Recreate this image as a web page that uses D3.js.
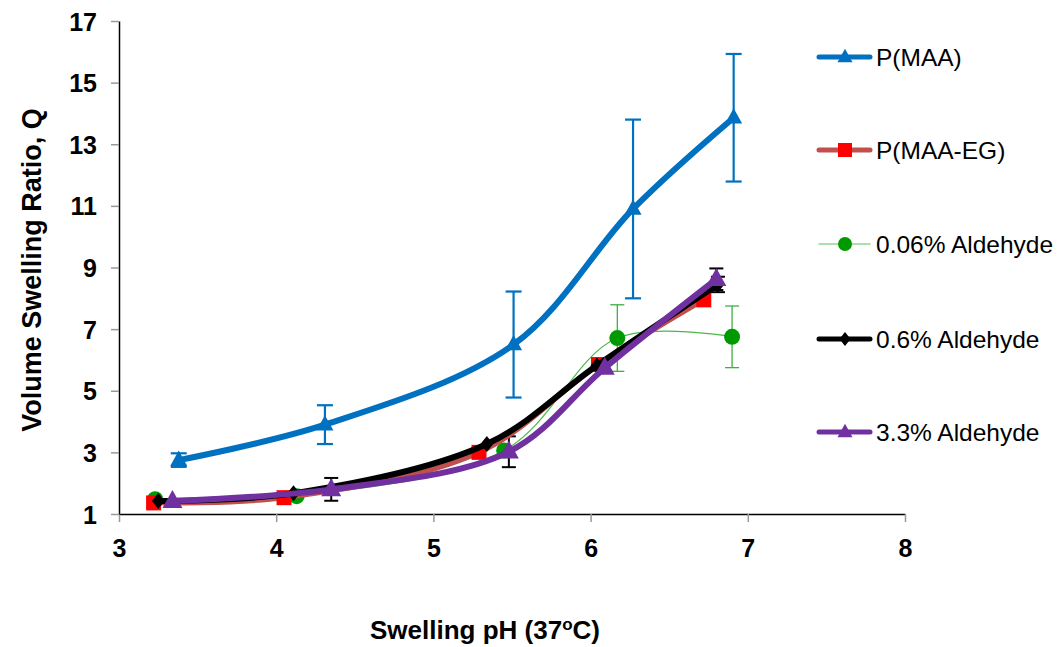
<!DOCTYPE html>
<html><head><meta charset="utf-8">
<script src="https://cdn.jsdelivr.net/npm/d3@7"></script>
<style>body{margin:0;background:#fff}</style>
</head><body>
<svg id="c" width="1060" height="647"></svg>
<script>
const xTicks = [3,4,5,6,7,8];
const yTicks = [1,3,5,7,9,11,13,15,17];

const seriesNames = ["P(MAA)","P(MAA-EG)","0.06% Aldehyde","0.6% Aldehyde","3.3% Aldehyde"];
const pMAA_x = [3.38,4.31,5.51,6.27,6.91];
const pMAA_y = [2.75,3.9,6.5,10.9,13.86];
const pMAA_err = [0.22,0.63,1.72,2.9,2.07];
const pMAAEG_x = [3.22,4.05,5.29,6.05,6.72];
const pMAAEG_y = [1.36,1.53,3.0,5.85,7.95];
const ald006_x = [3.23,4.13,5.45,6.17,6.90];
const ald006_y = [1.48,1.58,3.06,6.71,6.75];
const ald006_err = [0,0,0,1.08,1.0];
const ald06_x = [3.25,4.11,5.34,6.04,6.81];
const ald06_y = [1.42,1.67,3.27,5.82,8.45];
const ald06_err = [0,0,0,0,0.25];
const ald33_x = [3.34,4.35,5.48,6.09,6.80];
const ald33_y = [1.42,1.8,3.02,5.74,8.62];
const ald33_err = [0,0.37,0.5,0,0.35];

const svg = d3.select("#c");
const x = d3.scaleLinear().domain([3,8]).range([119,905]);
const y = d3.scaleLinear().domain([1,17]).range([514,21]);

const font = "'Liberation Sans',Arial,sans-serif";

const gx = svg.append("g").attr("transform","translate(0,514)")
  .call(d3.axisBottom(x).tickValues(xTicks).tickSize(8).tickSizeOuter(0).tickFormat(d3.format("d")));
const gy = svg.append("g").attr("transform","translate(119,0)")
  .call(d3.axisLeft(y).tickValues(yTicks).tickSize(8).tickSizeOuter(0).tickFormat(d3.format("d")));
[gx,gy].forEach(g=>{
  g.attr("font-family",font).attr("font-size",25);
  g.select(".domain").attr("stroke","#000").attr("stroke-width",1.5);
  g.selectAll(".tick line").attr("stroke","#999").attr("stroke-width",1.5);
  g.selectAll(".tick text").attr("font-weight","bold").attr("fill","#000");
});
gx.selectAll(".tick text").attr("y",43).attr("dy",0);
gy.selectAll(".tick text").attr("x",-22).attr("dy","0.36em");

svg.append("text").attr("x",485).attr("y",639).attr("text-anchor","middle")
  .attr("font-family",font).attr("font-weight","bold").attr("font-size",26)
  .html('Swelling pH (37<tspan dy="-9" font-size="17">o</tspan><tspan dy="9">C)</tspan>');
svg.append("text").attr("transform","translate(41,270) rotate(-90)").attr("text-anchor","middle")
  .attr("font-family",font).attr("font-weight","bold").attr("font-size",27)
  .text("Volume Swelling Ratio, Q");

const line = d3.line().x(d=>x(d[0])).y(d=>y(d[1])).curve(d3.curveCatmullRom.alpha(0.5));
const zip = (a,b)=>a.map((v,i)=>[v,b[i]]);

const series = [
  {name:seriesNames[0], xs:pMAA_x, ys:pMAA_y, err:pMAA_err, line:"#0070C0", lw:6, mark:"#0070C0", shape:"tri", ms:17, ec:"#0070C0", ew:2.2, cap:16},
  {name:seriesNames[1], xs:pMAAEG_x, ys:pMAAEG_y, err:null, line:"#C0504D", lw:5, mark:"#FF0000", shape:"sq", ms:15},
  {name:seriesNames[2], xs:ald006_x, ys:ald006_y, err:ald006_err, line:"#4CB84C", lw:1.2, mark:"#009900", shape:"circ", ms:16, ec:"#3FAF3F", ew:1.3, cap:14},
  {name:seriesNames[3], xs:ald06_x, ys:ald06_y, err:ald06_err, line:"#000000", lw:6, mark:"#000000", shape:"dia", ms:16, ec:"#000", ew:2, cap:14},
  {name:seriesNames[4], xs:ald33_x, ys:ald33_y, err:ald33_err, line:"#7030A0", lw:6, mark:"#7030A0", shape:"tri", ms:20, ec:"#000", ew:2, cap:14}
];

function marker(g, shape, cx, cy, s, color){
  if(shape==="tri"){
    const h=s*0.9;
    g.append("path").attr("d",`M${cx},${cy-h*0.62}L${cx+s/2},${cy+h*0.38}L${cx-s/2},${cy+h*0.38}Z`).attr("fill",color);
  } else if(shape==="sq"){
    g.append("rect").attr("x",cx-s/2).attr("y",cy-s/2).attr("width",s).attr("height",s).attr("fill",color);
  } else if(shape==="circ"){
    g.append("circle").attr("cx",cx).attr("cy",cy).attr("r",s/2).attr("fill",color);
  } else if(shape==="dia"){
    const r=s/2;
    g.append("path").attr("d",`M${cx},${cy-r}L${cx+r*0.8},${cy}L${cx},${cy+r}L${cx-r*0.8},${cy}Z`).attr("fill",color);
  }
}

const plot = svg.append("g");
series.forEach(s=>{
  const pts = zip(s.xs,s.ys);
  if(s.err){
    pts.forEach((p,i)=>{
      const e=s.err[i]; if(!e) return;
      const cx=x(p[0]), y1=y(p[1]+e), y0=y(p[1]-e);
      const g=plot.append("g").attr("stroke",s.ec).attr("stroke-width",s.ew);
      g.append("line").attr("x1",cx).attr("x2",cx).attr("y1",y1).attr("y2",y0);
      g.append("line").attr("x1",cx-s.cap/2).attr("x2",cx+s.cap/2).attr("y1",y1).attr("y2",y1);
      g.append("line").attr("x1",cx-s.cap/2).attr("x2",cx+s.cap/2).attr("y1",y0).attr("y2",y0);
    });
  }
});
const order=[2,1,3,4,0];
order.forEach(k=>{
  const s=series[k];
  const pts=zip(s.xs,s.ys);
  plot.append("path").datum(pts).attr("d",line).attr("fill","none")
    .attr("stroke",s.line).attr("stroke-width",s.lw).attr("stroke-linejoin","round").attr("stroke-linecap","round");
  pts.forEach(p=>marker(plot,s.shape,x(p[0]),y(p[1]),s.ms,s.mark));
});

const legY=[57,150,244,339,432];
const legMs=[15,14,14,14,15];
const leg=svg.append("g");
series.forEach((s,i)=>{
  const ly=legY[i];
  leg.append("line").attr("x1",819).attr("x2",870).attr("y1",ly).attr("y2",ly)
    .attr("stroke", i===2?"#8FD88F":s.line).attr("stroke-width", i===2?1.5:5).attr("stroke-linecap","round");
  marker(leg,s.shape,845,ly,legMs[i],s.mark);
  leg.append("text").attr("x",876).attr("y",ly).attr("dy","0.36em")
    .attr("font-family",font).attr("font-size",24.5).attr("fill","#000")
    .text(s.name);
});
</script>
</body></html>
